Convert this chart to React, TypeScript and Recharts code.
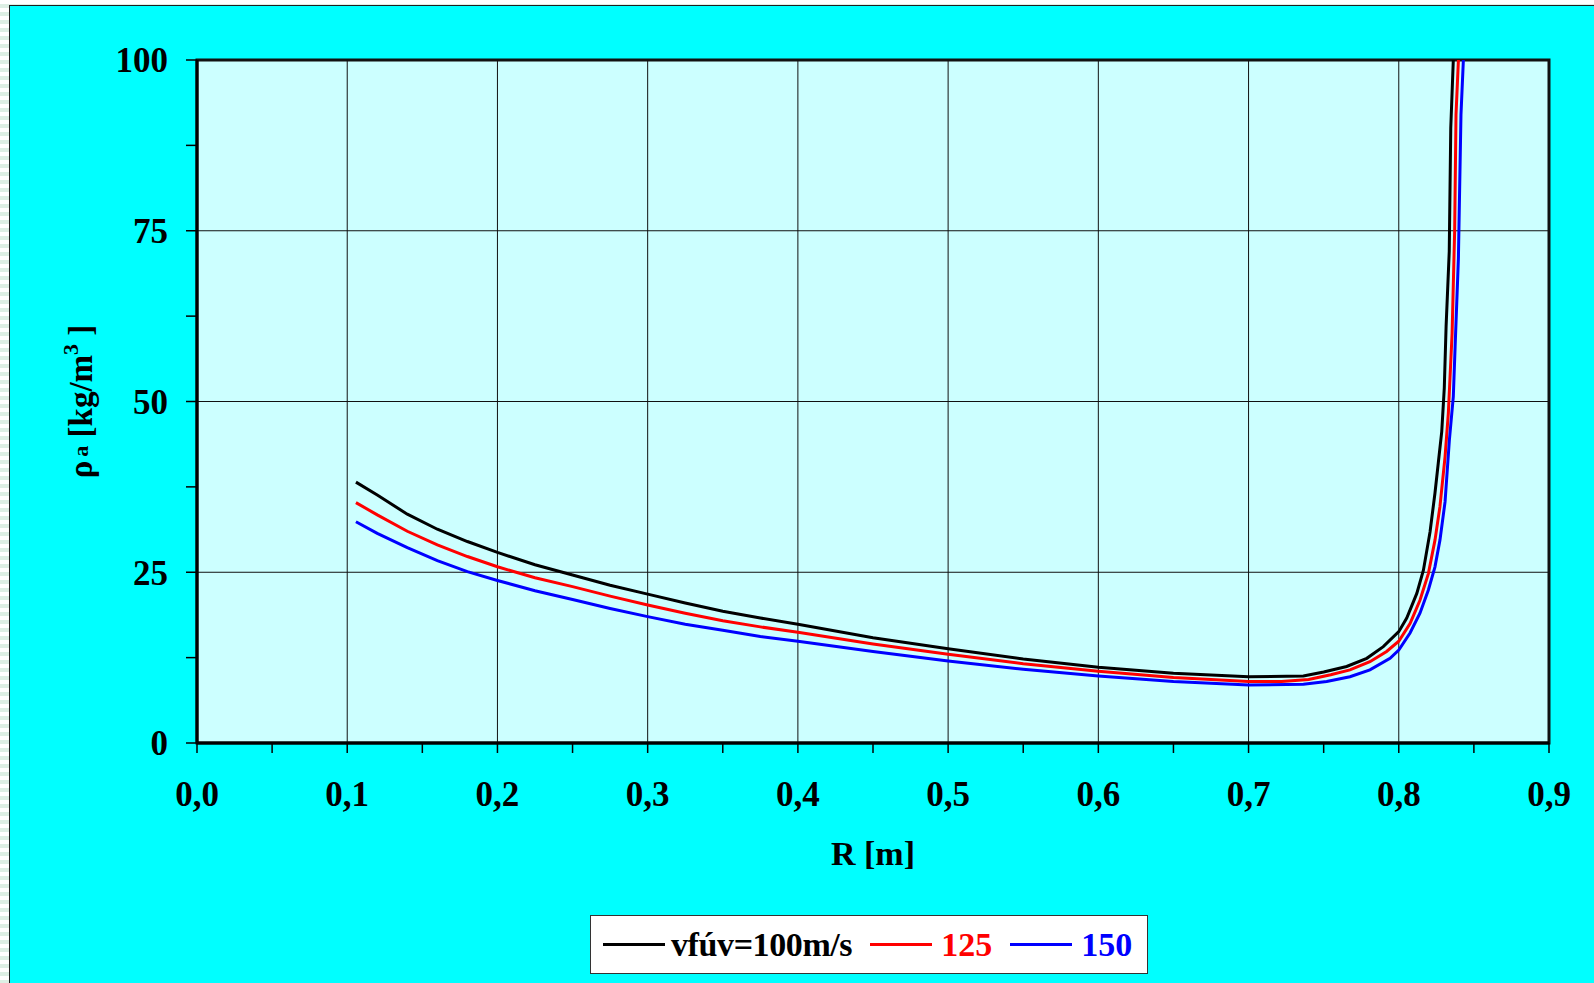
import React from 'react';
import {
  LineChart,
  Line,
  XAxis,
  YAxis,
  CartesianGrid,
  ReferenceLine,
  ReferenceArea,
} from 'recharts';

// Density of the medium vs. radius, for three blowing velocities.
// Each entry is [R in m, ρa in kg/m³].
const rhoV100: [number, number][] = [
  [0.1058, 38.2], [0.12, 36.3], [0.14, 33.5], [0.16, 31.3], [0.18, 29.5],
  [0.2, 27.9], [0.225, 26.1], [0.25, 24.6], [0.275, 23.1], [0.3, 21.8],
  [0.325, 20.5], [0.35, 19.3], [0.375, 18.3], [0.4, 17.4], [0.45, 15.4],
  [0.5, 13.8], [0.55, 12.3], [0.6, 11.1], [0.65, 10.2], [0.7, 9.7],
  [0.7365, 9.8], [0.75, 10.4], [0.7653, 11.2], [0.7787, 12.4], [0.7897, 14.1],
  [0.8, 16.3], [0.8053, 18.3], [0.812, 21.9], [0.8164, 25.3], [0.8208, 30.9],
  [0.8241, 36.6], [0.8263, 41.0], [0.8286, 45.6], [0.8303, 52.0], [0.8315, 61.0],
  [0.8336, 72.0], [0.8346, 90.0], [0.8363, 100],
];

const rhoV125: [number, number][] = [
  [0.1058, 35.2], [0.12, 33.4], [0.14, 31.0], [0.16, 29.0], [0.18, 27.3],
  [0.2, 25.8], [0.225, 24.2], [0.25, 22.9], [0.275, 21.5], [0.3, 20.2],
  [0.325, 19.0], [0.35, 17.9], [0.375, 17.0], [0.4, 16.2], [0.45, 14.5],
  [0.5, 13.0], [0.55, 11.6], [0.6, 10.5], [0.65, 9.6], [0.7, 9.0],
  [0.722, 9.0], [0.74, 9.3], [0.7547, 10.0], [0.7675, 10.7], [0.7808, 11.9],
  [0.7919, 13.4], [0.8, 14.9], [0.8075, 17.5], [0.8141, 20.9], [0.8197, 24.8],
  [0.8241, 29.7], [0.8274, 34.6], [0.8308, 41.9], [0.833, 48.3], [0.8355, 60.0],
  [0.8372, 75.0], [0.8381, 92.0], [0.8397, 100],
];

const rhoV150: [number, number][] = [
  [0.1058, 32.4], [0.12, 30.7], [0.14, 28.6], [0.16, 26.7], [0.18, 25.1],
  [0.2, 23.8], [0.225, 22.3], [0.25, 21.0], [0.275, 19.7], [0.3, 18.5],
  [0.325, 17.4], [0.35, 16.5], [0.375, 15.6], [0.4, 14.9], [0.45, 13.4],
  [0.5, 12.0], [0.55, 10.8], [0.6, 9.8], [0.65, 9.0], [0.7, 8.5],
  [0.7365, 8.6], [0.752, 9.0], [0.7675, 9.7], [0.7808, 10.7], [0.7942, 12.4],
  [0.8, 13.6], [0.8075, 16.1], [0.8141, 19.0], [0.8197, 22.4], [0.8241, 25.8],
  [0.8274, 29.7], [0.8308, 35.3], [0.8337, 44.4], [0.8363, 50.7], [0.8375, 58.0],
  [0.8397, 71.0], [0.8414, 92.0], [0.843, 100],
];

const seriesNames = ['vfúv=100m/s', '125', '150'];
const seriesColors = ['#000000', '#ff0000', '#0000ff'];
const seriesValues = [rhoV100, rhoV125, rhoV150];

const xTicks = [0, 0.05, 0.1, 0.15, 0.2, 0.25, 0.3, 0.35, 0.4, 0.45, 0.5, 0.55, 0.6, 0.65, 0.7, 0.75, 0.8, 0.85, 0.9];
const xGrid = [0.1, 0.2, 0.3, 0.4, 0.5, 0.6, 0.7, 0.8];
const yTicks = [0, 12.5, 25, 37.5, 50, 62.5, 75, 87.5, 100];
const yGrid = [25, 50, 75];

const series = seriesValues.map((pts, i) => ({
  name: seriesNames[i],
  color: seriesColors[i],
  data: pts.map(([r, rho]) => ({ r, rho })),
}));

const FONT = '"Liberation Serif", "Times New Roman", Times, serif';
const W = 1594;
const H = 983;

const fmtX = (v: number) =>
  Math.abs(v * 10 - Math.round(v * 10)) < 1e-6 ? v.toFixed(1).replace('.', ',') : '';
const fmtY = (v: number) => (v % 25 === 0 ? String(v) : '');

const tickStyle = { fill: '#000', fontSize: 35, fontWeight: 'bold', fontFamily: FONT };

const XTitle = (props: any) => {
  const vb = props.viewBox || {};
  return (
    <text
      x={vb.x + vb.width / 2}
      y={vb.y + 122}
      textAnchor="middle"
      fontFamily={FONT}
      fontWeight="bold"
      fontSize={34}
      fill="#000"
    >
      R [m]
    </text>
  );
};

const YTitle = (props: any) => {
  const vb = props.viewBox || {};
  const cx = vb.x - 5;
  const cy = vb.y + vb.height / 2;
  return (
    <text
      x={cx}
      y={cy}
      transform={`rotate(-90, ${cx}, ${cy})`}
      textAnchor="middle"
      fontFamily={FONT}
      fontWeight="bold"
      fontSize={33}
      fill="#000"
    >
      ρ
      <tspan dx={4} dy={-4} fontSize={22}>a</tspan>
      <tspan dy={4}> [kg/m</tspan>
      <tspan dy={-14} fontSize={22}>3</tspan>
      <tspan dy={14}> ]</tspan>
    </text>
  );
};

const LegendBox = () => (
  <div
    style={{
      position: 'absolute',
      left: 590,
      top: 915,
      width: 558,
      height: 59,
      boxSizing: 'border-box',
      border: '1.5px solid #333',
      background: '#ffffff',
      display: 'flex',
      alignItems: 'center',
      paddingLeft: 12,
      fontFamily: FONT,
      fontWeight: 'bold',
      fontSize: 34,
      whiteSpace: 'nowrap',
    }}
  >
    {series.map((s, i) => (
      <div key={s.name} style={{ display: 'flex', alignItems: 'center', marginRight: i < series.length - 1 ? 18 : 0 }}>
        <span style={{ display: 'inline-block', width: 62, height: 3, background: s.color, marginRight: i === 0 ? 6 : 9 }} />
        <span style={{ color: s.color, letterSpacing: i === 0 ? '-0.4px' : 0 }}>{s.name}</span>
      </div>
    ))}
  </div>
);

export default function App() {
  return (
    <div
      style={{
        position: 'absolute',
        left: 0,
        top: 0,
        width: W,
        height: H,
        overflow: 'hidden',
        background: 'repeating-linear-gradient(180deg, #ffffff 0px, #ffffff 4px, #dcefe4 4px, #dcefe4 8px)',
      }}
    >
      <div
        style={{
          position: 'absolute',
          left: 9,
          top: 5,
          width: 1620,
          height: 1020,
          border: '1.5px solid #202020',
          background: '#00ffff',
        }}
      />
      <div style={{ position: 'absolute', left: 0, top: 0 }}>
        <LineChart width={W} height={H} margin={{ top: 60, right: 45, bottom: 180, left: 97 }}>
          <CartesianGrid fill="#ccffff" horizontal={false} vertical={false} />
          {xGrid.map((x) => (
            <ReferenceLine key={`gx${x}`} x={x} stroke="#111" strokeWidth={1} />
          ))}
          {yGrid.map((y) => (
            <ReferenceLine key={`gy${y}`} y={y} stroke="#111" strokeWidth={1} />
          ))}
          <XAxis
            type="number"
            dataKey="r"
            domain={[0, 0.9]}
            ticks={xTicks}
            interval={0}
            tickFormatter={fmtX}
            tick={tickStyle}
            tickSize={10}
            tickMargin={28}
            tickLine={{ stroke: '#000', strokeWidth: 1.5 }}
            axisLine={{ stroke: '#000', strokeWidth: 3 }}
            height={60}
            allowDuplicatedCategory={false}
            label={XTitle}
          />
          <YAxis
            type="number"
            domain={[0, 100]}
            ticks={yTicks}
            interval={0}
            tickFormatter={fmtY}
            tick={tickStyle}
            tickSize={11}
            tickMargin={18}
            tickLine={{ stroke: '#000', strokeWidth: 1.5 }}
            axisLine={{ stroke: '#000', strokeWidth: 3 }}
            width={100}
            label={YTitle}
          />
          <ReferenceArea x1={0} x2={0.9} y1={0} y2={100} fill="none" stroke="#111" strokeWidth={3} />
          {series.map((s) => (
            <Line
              key={s.name}
              data={s.data}
              dataKey="rho"
              name={s.name}
              type="linear"
              stroke={s.color}
              strokeWidth={3}
              dot={false}
              activeDot={false}
              isAnimationActive={false}
            />
          ))}
        </LineChart>
      </div>
      <LegendBox />
    </div>
  );
}
